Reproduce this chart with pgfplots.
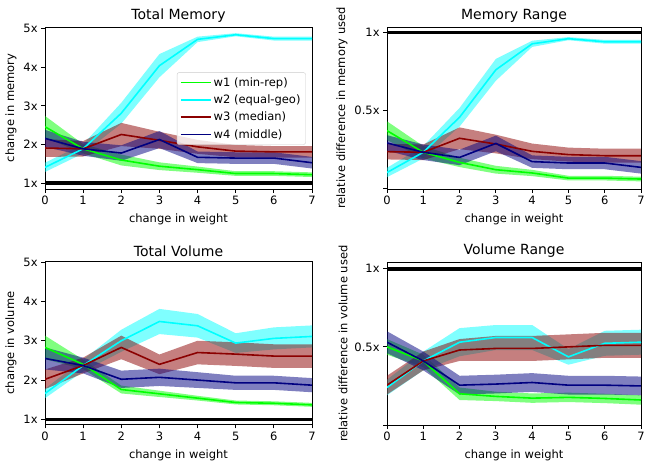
\documentclass[border=0pt]{standalone}
\usepackage{pgfplots}
\pgfplotsset{compat=1.18}
\usepackage{pgfplotstable}
\usepgfplotslibrary{fillbetween}
\usepackage{fontspec}
\setmainfont{DejaVu Sans}

\definecolor{cw1}{RGB}{0,255,0}
\definecolor{cw2}{RGB}{0,255,255}
\definecolor{cw3}{RGB}{139,0,0}
\definecolor{cw4}{RGB}{0,0,128}

% x, w1 mean/halfwidth, w2, w3, w4
\pgfplotstableread{
x a ae b be c ce d de
0 2.46 0.28 1.41 0.12 1.91 0.23 2.16 0.22
1 1.89 0.12 1.89 0.12 1.89 0.20 1.89 0.18
2 1.60 0.14 2.81 0.27 2.26 0.30 1.78 0.20
3 1.44 0.10 4.04 0.30 2.11 0.22 2.13 0.22
4 1.35 0.08 4.72 0.07 1.94 0.18 1.67 0.15
5 1.25 0.06 4.84 0.04 1.83 0.16 1.65 0.15
6 1.25 0.06 4.74 0.05 1.81 0.15 1.65 0.15
7 1.22 0.06 4.74 0.05 1.81 0.15 1.53 0.15
}\tmem
\pgfplotstableread{
x a ae b be c ce d de
0 0.369 0.060 0.100 0.030 0.234 0.050 0.290 0.050
1 0.230 0.040 0.230 0.040 0.230 0.050 0.230 0.050
2 0.165 0.030 0.455 0.060 0.320 0.070 0.197 0.050
3 0.118 0.025 0.760 0.070 0.283 0.060 0.287 0.050
4 0.097 0.020 0.927 0.020 0.236 0.050 0.170 0.040
5 0.064 0.015 0.960 0.010 0.215 0.045 0.161 0.040
6 0.064 0.015 0.940 0.012 0.208 0.045 0.161 0.040
7 0.058 0.015 0.940 0.012 0.208 0.045 0.133 0.040
}\rmem
\pgfplotstableread{
x a ae b be c ce d de
0 2.83 0.30 1.66 0.12 2.02 0.25 2.55 0.28
1 2.40 0.12 2.37 0.15 2.37 0.20 2.37 0.20
2 1.76 0.10 3.00 0.28 2.83 0.30 2.02 0.22
3 1.65 0.08 3.49 0.32 2.40 0.25 2.07 0.22
4 1.54 0.06 3.38 0.30 2.70 0.30 2.00 0.20
5 1.43 0.05 2.94 0.25 2.66 0.30 1.93 0.18
6 1.41 0.05 3.06 0.28 2.61 0.30 1.93 0.18
7 1.37 0.05 3.11 0.28 2.61 0.30 1.87 0.18
}\tvol
\pgfplotstableread{
x a ae b be c ce d de
0 0.500 0.050 0.240 0.050 0.255 0.060 0.530 0.070
1 0.410 0.040 0.410 0.060 0.410 0.060 0.410 0.060
2 0.200 0.040 0.530 0.090 0.480 0.070 0.255 0.060
3 0.183 0.030 0.560 0.080 0.490 0.080 0.262 0.060
4 0.172 0.030 0.560 0.080 0.490 0.080 0.272 0.060
5 0.177 0.030 0.436 0.050 0.500 0.080 0.255 0.060
6 0.170 0.030 0.523 0.080 0.510 0.080 0.255 0.060
7 0.160 0.030 0.530 0.080 0.510 0.080 0.250 0.060
}\rvol

% #1 table, #2 mean col, #3 halfwidth col, #4 colour, #5 path prefix
\newcommand{\series}[5]{%
  \addplot[draw=none, name path=#5up, forget plot] table[x=x, y expr=\thisrow{#2}+\thisrow{#3}] {#1};
  \addplot[draw=none, name path=#5dn, forget plot] table[x=x, y expr=\thisrow{#2}-\thisrow{#3}] {#1};
  \addplot[fill=#4, fill opacity=0.5, draw=none, forget plot] fill between[of=#5up and #5dn];
  \addplot[#4, line width=1.6pt] table[x=x, y=#2] {#1};
}

\pgfplotsset{
  myax/.style={
    scale only axis,
    xmin=0, xmax=7,
    xtick={0,1,2,3,4,5,6,7},
    xticklabels={0,1,2,3,4,5,6,7},
    tick align=outside,
    xtick pos=left, ytick pos=left,
    major tick length=3.9pt,
    tick style={black, line width=0.9pt},
    axis line style={line width=0.9pt},
    ticklabel style={font=\fontsize{11.5}{13.5}\selectfont},
    label style={font=\fontsize{11.5}{13.5}\selectfont},
    xlabel style={yshift=-2pt},
    title style={font=\fontsize{14}{16}\selectfont, yshift=-4.5pt},
    xlabel={change in weight},
    clip=true,
  },
  totax/.style={myax, ytick={1,2,3,4,5}, yticklabels={1x,2x,3x,4x,5x}},
  rngax/.style={myax, ytick={0,0.5,1}, yticklabels={,0.5x,1x}},
}

\begin{document}
\begin{tikzpicture}

% Total Memory
\begin{axis}[totax, at={(45pt,-189pt)}, anchor=south west, width=267pt, height=162pt,
  ymin=0.85, ymax=5.04, title={Total Memory}, ylabel={change in memory},
  legend style={at={(0.494,0.72)}, anchor=north west, font=\fontsize{11.5}{13.5}\selectfont,
    draw=black!20, rounded corners=2pt, fill=white, fill opacity=0.8, text opacity=1,
    row sep=3pt, inner xsep=3pt, inner ysep=3pt},
  legend cell align=left,
  legend image code/.code={\draw[#1] (0pt,0pt) -- (24pt,0pt); \path (0pt,0pt) -- (30pt,0pt);}]
\series{\tmem}{a}{ae}{cw1}{tma}
\series{\tmem}{b}{be}{cw2}{tmb}
\series{\tmem}{c}{ce}{cw3}{tmc}
\series{\tmem}{d}{de}{cw4}{tmd}
\addplot[black, line width=3.6pt, forget plot] coordinates {(-0.5,1) (7.5,1)};
\legend{w1 (min-rep), w2 (equal-geo), w3 (median), w4 (middle)}
\end{axis}

% Memory Range
\begin{axis}[rngax, at={(387pt,-189pt)}, anchor=south west, width=254pt, height=162pt,
  ymin=-0.006, ymax=1.035, title={Memory Range}, ylabel={relative difference in memory used}]
\series{\rmem}{a}{ae}{cw1}{rma}
\series{\rmem}{b}{be}{cw2}{rmb}
\series{\rmem}{c}{ce}{cw3}{rmc}
\series{\rmem}{d}{de}{cw4}{rmd}
\addplot[black, line width=3.6pt, forget plot] coordinates {(-0.5,1) (7.5,1)};
\end{axis}

% Total Volume
\begin{axis}[totax, at={(45pt,-424.5pt)}, anchor=south west, width=267pt, height=163pt,
  ymin=0.87, ymax=5.015, title={Total Volume}, ylabel={change in volume}]
\series{\tvol}{a}{ae}{cw1}{tva}
\series{\tvol}{b}{be}{cw2}{tvb}
\series{\tvol}{c}{ce}{cw3}{tvc}
\series{\tvol}{d}{de}{cw4}{tvd}
\addplot[black, line width=3.6pt, forget plot] coordinates {(-0.5,1) (7.5,1)};
\end{axis}

% Volume Range
\begin{axis}[rngax, at={(387pt,-425pt)}, anchor=south west, width=254pt, height=162.5pt,
  ymin=0, ymax=1.04, title={Volume Range}, ylabel={relative difference in volume used}]
\series{\rvol}{a}{ae}{cw1}{rva}
\series{\rvol}{b}{be}{cw2}{rvb}
\series{\rvol}{c}{ce}{cw3}{rvc}
\series{\rvol}{d}{de}{cw4}{rvd}
\addplot[black, line width=3.6pt, forget plot] coordinates {(-0.5,1) (7.5,1)};
\end{axis}

\pgfresetboundingbox
\useasboundingbox (0pt,0pt) rectangle (645pt,-461pt);
\end{tikzpicture}
\end{document}
